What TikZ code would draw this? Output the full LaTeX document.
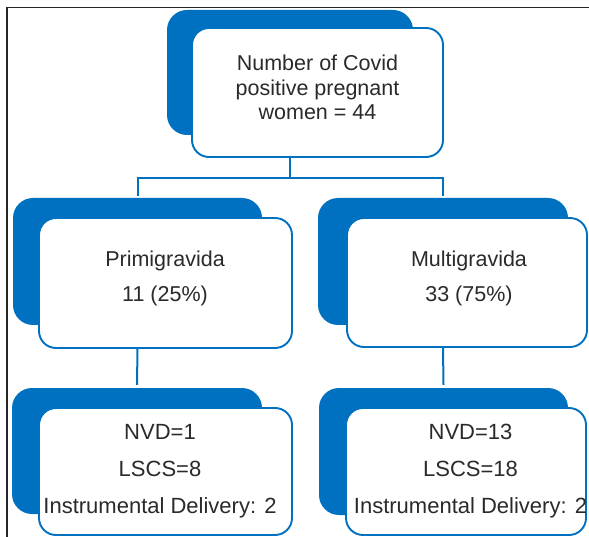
\documentclass[tikz,border=0pt]{standalone}
\usepackage{fontspec}
\setmainfont{Liberation Sans}
\definecolor{dblue}{HTML}{0070C0}
\definecolor{txt}{HTML}{2A2A2A}
\begin{document}
\begin{tikzpicture}[x=1pt,y=-1pt,
  backbox/.style={draw=none,fill=dblue,rounded corners=20pt,inner sep=0pt},
  frontbox/.style={draw=dblue,line width=1.9pt,fill=white,rounded corners=17pt,inner sep=0pt},
  lbl/.style={text=txt,align=center,inner sep=0pt},
  conn/.style={draw=dblue,line width=2pt},
  frame/.style={draw=black!85,line width=1.8pt}]
\useasboundingbox (0,0) rectangle (589,537);
% frame
\coordinate (f1) at (589,7.5);
\coordinate (f2) at (7,7.5);
\coordinate (f3) at (7,537);
\draw[frame] (f1) -- (f2) -- (f3);
% top
\node[backbox,minimum width=246pt,minimum height=125pt] (tb) at (290,72.5) {};
\node[frontbox,minimum width=251pt,minimum height=129pt] (tf) at (317.5,92.5) {};
\node[lbl,font=\fontsize{21.5}{24.5}\selectfont] (tl) at (317.5,87.5) {Number of Covid\\positive pregnant\\women = 44};
% middle
\node[backbox,minimum width=249pt,minimum height=127pt] (mlb) at (137.5,261.5) {};
\node[frontbox,minimum width=253pt,minimum height=130pt] (mlf) at (165.5,283) {};
\node[backbox,minimum width=250pt,minimum height=127pt] (mrb) at (443,261.5) {};
\node[frontbox,minimum width=240pt,minimum height=129pt] (mrf) at (467,282.5) {};
\node[lbl,font=\fontsize{21.5}{35}\selectfont] (mll) at (165,278.5) {Primigravida\\11 (25\%)};
\node[lbl,font=\fontsize{21.5}{35}\selectfont] (mrl) at (469,278.5) {Multigravida\\33 (75\%)};
% bottom
\node[backbox,minimum width=250pt,minimum height=126pt] (blb) at (137,451) {};
\node[frontbox,minimum width=253pt,minimum height=127pt] (blf) at (165.5,471.5) {};
\node[backbox,minimum width=249pt,minimum height=127pt] (brb) at (443.5,451.5) {};
\node[frontbox,minimum width=240pt,minimum height=127pt] (brf) at (466,471.5) {};
\node[lbl,font=\fontsize{22}{37}\selectfont] (bll) at (160,471) {NVD=1\\LSCS=8\\Instrumental Delivery: 2};
\node[lbl,font=\fontsize{22}{37}\selectfont] (brl) at (470.5,471) {NVD=13\\LSCS=18\\Instrumental Delivery: 2};
% connectors
\coordinate (hy) at (0,178);
\draw[conn] (tf.south -| tb.center) -- (tb.center |- hy) -| ([yshift=2pt]mlb.north);
\draw[conn] (tb.center |- hy) -| ([yshift=2pt]mrb.north);
\draw[conn] (mlf.south -| mlb.center) -- ([yshift=3pt]blb.north);
\draw[conn] (mrf.south -| mrb.center) -- ([yshift=3pt]brb.north);
\end{tikzpicture}
\end{document}
